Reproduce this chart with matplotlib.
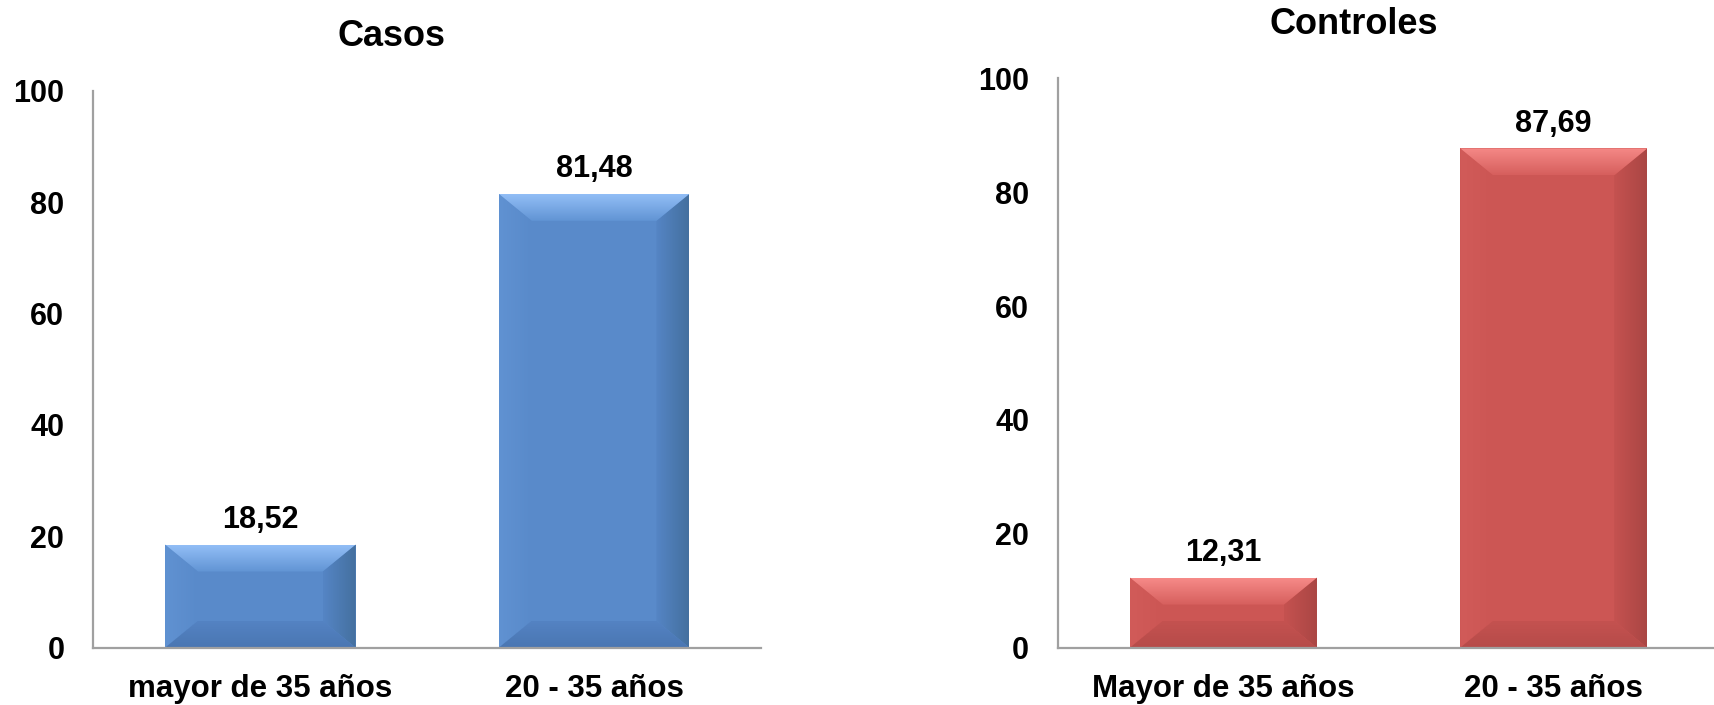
import matplotlib
matplotlib.use("Agg")
import matplotlib.pyplot as plt
import numpy as np
from matplotlib.patches import Polygon
from matplotlib.colors import to_rgb

# ---- data ----
casos_labels = ["mayor de 35 años", "20 - 35 años"]
casos_values = [18.52, 81.48]
controles_labels = ["Mayor de 35 años", "20 - 35 años"]
controles_values = [12.31, 87.69]
y_ticks = [0, 20, 40, 60, 80, 100]
titles = ["Casos", "Controles"]

W, H = 1715, 705
DPI = 100
plt.rcParams['font.family'] = ['Liberation Sans', 'DejaVu Sans']
plt.rcParams['font.weight'] = 'bold'

fig = plt.figure(figsize=(W / DPI, H / DPI), dpi=DPI)
fig.patch.set_facecolor('white')

def px(x0, y0, x1, y1):
    # pixel box (top-left origin) -> figure fraction rect
    return [x0 / W, 1 - y1 / H, (x1 - x0) / W, (y1 - y0) / H]

ax_l = fig.add_axes(px(93.5, 90.7, 761, 647.7))
ax_r = fig.add_axes(px(1058.3, 78.3, 1718.9, 647.7))

BLUE = dict(face="#598ACA", top0="#92BEF6", top1="#6194D4", left="#6092D2",
            right0="#5585C5", right1="#44709F", bot0="#5483C3", bot1="#4A76B2")
RED = dict(face="#CC5654", top0="#F68A88", top1="#D65F5D", left="#D15B59",
           right0="#C55250", right1="#AA4644", bot0="#C45250", bot1="#B64B49")

def grad_poly(ax, verts, c0, c1, direction):
    poly = Polygon(verts, closed=True, facecolor='none', edgecolor='none')
    ax.add_patch(poly)
    xs = [v[0] for v in verts]; ys = [v[1] for v in verts]
    a = np.array(to_rgb(c0)); b = np.array(to_rgb(c1))
    t = np.linspace(0, 1, 64)
    if direction == 'v':   # c0 at top, c1 at bottom
        img = (a[None, :] * (1 - t[:, None]) + b[None, :] * t[:, None])[:, None, :]
    else:                  # c0 at left, c1 at right
        img = (a[None, :] * (1 - t[:, None]) + b[None, :] * t[:, None])[None, :, :]
    im = ax.imshow(img, extent=[min(xs), max(xs), min(ys), max(ys)], origin='upper',
                   aspect='auto', interpolation='bilinear', zorder=3)
    im.set_clip_path(poly)

def draw_panel(ax, labels, values, pal, width):
    x = np.arange(len(values))
    ax.set_xlim(-0.5, len(values) - 0.5)
    ax.set_ylim(0, 100)
    bars = ax.bar(x, values, width=width, color=pal["face"], zorder=2,
                  edgecolor='none')
    # bevel size in data units from pixel size
    ppx = ax.transData.transform((1, 0))[0] - ax.transData.transform((0, 0))[0]
    ppy = ax.transData.transform((0, 1))[1] - ax.transData.transform((0, 0))[1]
    for b in bars:
        x0 = b.get_x(); x1 = x0 + b.get_width(); y0 = 0; y1 = b.get_height()
        bh = min(27 / ppy, (y1 - y0) / 2.2)
        bw = min(33 / ppx, (x1 - x0) / 2.2)
        # left
        grad_poly(ax, [(x0, y0), (x0 + bw, y0 + bh), (x0 + bw, y1 - bh), (x0, y1)],
                  pal["left"], pal["face"], 'h')
        # right
        grad_poly(ax, [(x1, y0), (x1 - bw, y0 + bh), (x1 - bw, y1 - bh), (x1, y1)],
                  pal["right0"], pal["right1"], 'h')
        # top
        grad_poly(ax, [(x0, y1), (x1, y1), (x1 - bw, y1 - bh), (x0 + bw, y1 - bh)],
                  pal["top0"], pal["top1"], 'v')
        # bottom
        grad_poly(ax, [(x0, y0), (x1, y0), (x1 - bw, y0 + bh), (x0 + bw, y0 + bh)],
                  pal["bot0"], pal["bot1"], 'v')
        lab = f"{b.get_height():.2f}".replace('.', ',')
        ax.annotate(lab, (b.get_x() + b.get_width() / 2, b.get_height()),
                    xytext=(0, 12), textcoords='offset points', ha='center',
                    va='baseline', fontsize=22, fontweight='bold', color='black')
    ax.set_xlim(-0.5, len(values) - 0.5)
    ax.set_ylim(0, 100)
    ax.set_xticks(x)
    ax.set_xticklabels(labels)
    ax.set_yticks(y_ticks)
    for s in ['top', 'right']:
        ax.spines[s].set_visible(False)
    for s in ['left', 'bottom']:
        ax.spines[s].set_color('#A0A0A0')
        ax.spines[s].set_linewidth(1.6)
        ax.spines[s].set_zorder(5)
    ax.tick_params(axis='y', length=0, pad=21, labelsize=22)
    ax.tick_params(axis='x', length=0, pad=19, labelsize=22.5)
    for t in ax.get_xticklabels() + ax.get_yticklabels():
        t.set_fontweight('bold')
    ax.set_facecolor('none')

draw_panel(ax_l, casos_labels, casos_values, BLUE, 0.571)
draw_panel(ax_r, controles_labels, controles_values, RED, 0.566)

fig.text(392 / W, 1 - 46 / H, titles[0], ha='center', va='baseline',
         fontsize=26, fontweight='bold')
fig.text(1354 / W, 1 - 34.5 / H, titles[1], ha='center', va='baseline',
         fontsize=26, fontweight='bold')

fig.savefig("out.png", dpi=DPI, facecolor='white')
